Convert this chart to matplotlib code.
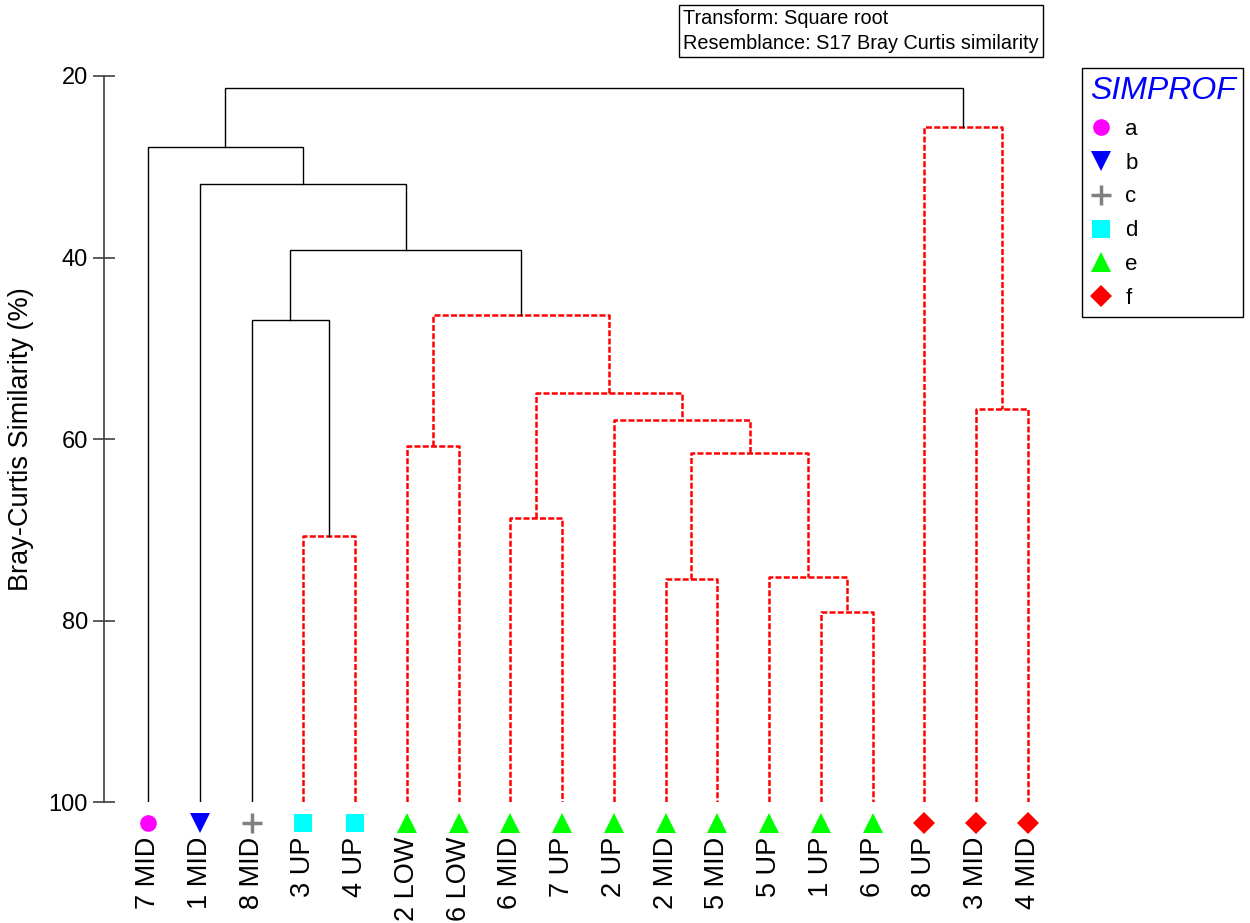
import numpy as np
import matplotlib
matplotlib.use("Agg")
import matplotlib.pyplot as plt
from matplotlib.lines import Line2D

plt.rcParams['font.family'] = ['Liberation Sans', 'DejaVu Sans']

# leaves, left to right
leaf_labels = ['7 MID', '1 MID', '8 MID', '3 UP', '4 UP', '2 LOW', '6 LOW', '6 MID', '7 UP',
               '2 UP', '2 MID', '5 MID', '5 UP', '1 UP', '6 UP', '8 UP', '3 MID', '4 MID']
leaf_groups = ['a', 'b', 'c', 'd', 'd', 'e', 'e', 'e', 'e',
               'e', 'e', 'e', 'e', 'e', 'e', 'f', 'f', 'f']

# merges: node ids 18.. in order, children refer to leaf index or earlier node id
merge_left = [3, 2, 5, 7, 10, 13, 12, 22, 9, 21, 20, 19, 1, 0, 16, 15, 31]
merge_right = [4, 18, 6, 8, 11, 14, 23, 24, 25, 26, 27, 28, 29, 30, 17, 32, 33]
merge_height = [70.69, 46.89, 60.74, 68.74, 75.46, 79.06, 75.17, 61.58, 57.91,
                54.96, 46.34, 39.17, 31.87, 27.86, 56.73, 25.65, 21.36]
# True = significant structure (black solid), False = no structure (red dashed)
merge_signif = [False, True, False, False, False, False, False, False, False,
                False, False, True, True, True, False, False, True]

group_names = ['a', 'b', 'c', 'd', 'e', 'f']
group_colors = {'a': '#ff00ff', 'b': '#0000ff', 'c': '#808080',
                'd': '#00ffff', 'e': '#00ff00', 'f': '#ff0000'}
group_markers = {'a': 'o', 'b': 'v', 'c': '+', 'd': 's', 'e': '^', 'f': 'D'}
group_msize = {'a': 12, 'b': 14, 'c': 15, 'd': 13, 'e': 14, 'f': 11}

n = len(leaf_labels)
node_x = list(range(n))
node_y = [100.0] * n

fig = plt.figure(figsize=(12.5, 9.23), dpi=100)
ax = fig.add_axes([104 / 1250, 1 - 802 / 923, (1060 - 104) / 1250, (802 - 76) / 923])

for l, r, h, s in zip(merge_left, merge_right, merge_height, merge_signif):
    xl, xr = node_x[l], node_x[r]
    yl, yr = node_y[l], node_y[r]
    if s:
        ax.plot([xl, xl, xr, xr], [yl, h, h, yr], color='black', lw=1.0,
                solid_joinstyle='miter')
    else:
        ax.plot([xl, xl, xr, xr], [yl, h, h, yr], color='red', lw=1.8,
                linestyle=(0, (2.4, 0.9)))
    node_x.append((xl + xr) / 2)
    node_y.append(h)

for i, (lab, g) in enumerate(zip(leaf_labels, leaf_groups)):
    ax.plot(i, 102.3, marker=group_markers[g], color=group_colors[g],
            markersize=group_msize[g], markeredgewidth=2.5 if g == 'c' else 0,
            linestyle='none', clip_on=False)
    ax.text(i, 103.8, lab, rotation=90, ha='center', va='top', fontsize=19.5,
            clip_on=False)

ax.set_xlim(-0.85, 17.62)
ax.set_ylim(100, 20)
ax.set_yticks([20, 40, 60, 80, 100])
ax.tick_params(axis='y', direction='inout', length=16, width=1.2, pad=3.5,
               labelsize=17, color='#404040')
ax.set_xticks([])
for side in ['top', 'right', 'bottom']:
    ax.spines[side].set_visible(False)
ax.spines['left'].set_color('#404040')
ax.spines['left'].set_linewidth(1.2)
ax.set_ylabel('Bray-Curtis Similarity (%)', fontsize=19.5)
ax.yaxis.set_label_coords(-(104 - 34) / 956, 0.5)

fig.text(683 / 1250, 1 - 9 / 923,
         'Transform: Square root\nResemblance: S17 Bray Curtis similarity',
         ha='left', va='top', fontsize=14.3, linespacing=1.4,
         bbox=dict(boxstyle='square,pad=0.22', facecolor='white', edgecolor='black', lw=1))

handles = [Line2D([], [], marker=group_markers[g], color=group_colors[g],
                  markersize=group_msize[g], markeredgewidth=2.5 if g == 'c' else 0,
                  linestyle='none') for g in group_names]
leg = fig.legend(handles, group_names, loc='upper left',
                 bbox_to_anchor=(1082 / 1250, 1 - 68 / 923), borderaxespad=0,
                 fontsize=16, title='SIMPROF', title_fontsize=23, frameon=True,
                 fancybox=False, edgecolor='black', framealpha=1, handlelength=1.0,
                 handletextpad=0.6, labelspacing=0.58, borderpad=0.35, alignment='left')
leg.get_frame().set_linewidth(1.0)
leg.get_title().set_color('blue')
leg.get_title().set_style('italic')

fig.savefig('out.png', dpi=100)
